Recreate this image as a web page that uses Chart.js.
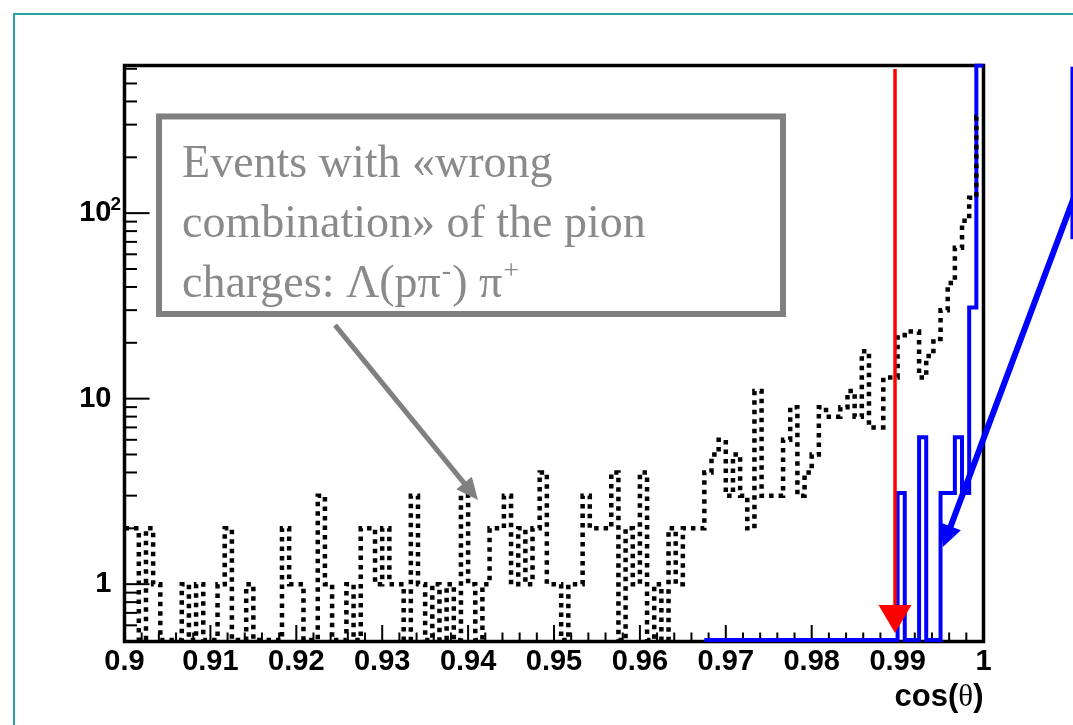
<!DOCTYPE html>
<html>
<head>
<meta charset="utf-8">
<title>cos(θ) distribution</title>
<script src="https://cdn.jsdelivr.net/npm/chart.js@4/dist/chart.umd.min.js"></script>
<style>
  html, body { margin: 0; padding: 0; background: #ffffff; }
  #wrap { position: relative; width: 1073px; height: 725px; overflow: hidden; }
  canvas { display: block; }
</style>
</head>
<body>
<div id="wrap"><canvas id="plot" width="1073" height="725"></canvas></div>
<script>
// Histogram binning: 120 bins over 0.9 < cos(theta) < 1
const X_MIN = 0.9;
const X_MAX = 1.0;
const N_BINS = 120;
const Y_MIN = 0.5;
const Y_MAX = 625;

// Events with the wrong pion-charge combination (black dotted histogram)
const wrongCombination = [
  2, 2, 0, 2, 1, 0, 0, 0, 1, 0,
  1, 0, 0, 1, 2, 0, 0, 1, 0, 0,
  0, 0, 2, 1, 1, 0, 0, 3, 1, 0,
  0, 1, 0, 2, 2, 1, 2, 1, 1, 0,
  3, 1, 0, 1, 0, 1, 0, 3, 1, 0,
  1, 2, 2, 3, 1, 2, 1, 2, 4, 1,
  1, 0, 1, 1, 3, 2, 2, 2, 4, 0,
  2, 1, 4, 0, 1, 0, 2, 1, 2, 2,
  2, 4, 5, 6, 3, 5, 3, 2, 11, 3,
  3, 3, 6, 9, 3, 4, 5, 9, 8, 8,
  9, 11, 8, 18, 7, 7, 13, 13, 22, 23,
  23, 13, 17, 21, 30, 42, 65, 91, 121, 330
];

// Simulated signal (blue histogram), filled from bin 81 onwards
const signalFirstBin = 81;
const signalSim = [
  0, 0, 0, 0, 0, 0, 0, 0, 0, 0,
  0, 0, 0, 0, 0, 0, 0, 0, 0, 0,
  0, 0, 0, 0, 0, 0, 0,
  3.1, 0, 0, 6.2, 0, 0, 3.1, 3.1, 6.2, 3.1, 31, 1500
];

// Selection cut on cos(theta)
const cosCut = 0.9897;

// Axis ticks (the exponent of 10^2 is drawn raised next to its base)
const xTickValues = [0.9, 0.91, 0.92, 0.93, 0.94, 0.95, 0.96, 0.97, 0.98, 0.99, 1.0];
const xTickLabels = ['0.9', '0.91', '0.92', '0.93', '0.94', '0.95', '0.96', '0.97', '0.98', '0.99', '1'];
const yTickValues = [1, 10, 100];
const yTickLabels = ['1', '10', '10'];
const yTickExponents = ['', '', '2'];

// Annotation text
const noteLine1 = 'Events with \u00ABwrong';
const noteLine2 = 'combination\u00BB of the pion';
const noteLine3 = [
  { text: 'charges: \u039B(p\u03C0', sup: false },
  { text: '-', sup: true },
  { text: ') \u03C0', sup: false },
  { text: '+', sup: true }
];

const BIN_W = (X_MAX - X_MIN) / N_BINS;

// Convert bin contents into step points; empty bins sit on the axis floor
function stepPoints(firstBin, values) {
  const clampY = v => Math.min(Math.max(v, Y_MIN), Y_MAX);
  const pts = values.map((v, i) => ({ x: X_MIN + (firstBin + i) * BIN_W, y: clampY(v) }));
  pts.push({ x: X_MIN + (firstBin + values.length) * BIN_W, y: clampY(values[values.length - 1]) });
  return pts;
}

function line(ctx, x0, y0, x1, y1) {
  ctx.beginPath();
  ctx.moveTo(x0, y0);
  ctx.lineTo(x1, y1);
  ctx.stroke();
}

function arrow(ctx, x0, y0, x1, y1, width, headLen, headHalf, color) {
  const dx = x1 - x0, dy = y1 - y0;
  const len = Math.hypot(dx, dy);
  const ux = dx / len, uy = dy / len;
  const bx = x1 - ux * headLen, by = y1 - uy * headLen;
  ctx.save();
  ctx.strokeStyle = color;
  ctx.fillStyle = color;
  ctx.lineWidth = width;
  ctx.lineCap = 'butt';
  line(ctx, x0, y0, bx + ux * 2, by + uy * 2);
  ctx.beginPath();
  ctx.moveTo(x1, y1);
  ctx.lineTo(bx - uy * headHalf, by + ux * headHalf);
  ctx.lineTo(bx + uy * headHalf, by - ux * headHalf);
  ctx.closePath();
  ctx.fill();
  ctx.restore();
}

const tickFont = { family: '"Liberation Sans", Arial, sans-serif', size: 29, weight: 'bold' };
const Y_LABEL_PAD = 13;

// Frame and inward-pointing tick marks
const frameAndTicks = {
  id: 'frameAndTicks',
  beforeDatasetsDraw(chart) {
    const { ctx, chartArea: a, scales: { x, y } } = chart;
    ctx.save();
    ctx.strokeStyle = '#000000';
    ctx.lineWidth = 2;
    ctx.lineCap = 'butt';
    for (let i = 0; i <= 50; i++) {
      const v = X_MIN + i * 0.002;
      const px = x.getPixelForValue(v);
      const len = (i % 5 === 0) ? 15 : 7.5;
      line(ctx, px, a.bottom, px, a.bottom - len);
    }
    [0.1, 1, 10, 100].forEach(d => {
      for (let m = 1; m <= 9; m++) {
        const v = m * d;
        if (v <= Y_MIN || v >= Y_MAX) continue;
        const py = y.getPixelForValue(v);
        const len = (m === 1) ? 25 : 12.5;
        line(ctx, a.left, py, a.left + len, py);
      }
    });
    ctx.lineWidth = 3.5;
    ctx.lineCap = 'square';
    ctx.beginPath();
    ctx.moveTo(a.left, a.top);
    ctx.lineTo(a.right, a.top);
    ctx.lineTo(a.right, a.bottom + 1.5);
    ctx.lineTo(a.left, a.bottom + 1.5);
    ctx.closePath();
    ctx.stroke();
    ctx.restore();
  }
};

// Cut arrow, annotation box, pointer arrows, exponents, axis title and page border
const overlays = {
  id: 'overlays',
  afterDraw(chart) {
    const { ctx, chartArea: a, scales: { x, y } } = chart;
    ctx.save();

    // exponents of the y tick labels
    ctx.fillStyle = '#000000';
    ctx.textAlign = 'left';
    ctx.textBaseline = 'alphabetic';
    yTickValues.forEach((v, i) => {
      if (!yTickExponents[i]) return;
      const py = y.getPixelForValue(v);
      ctx.font = 'bold 19px "Liberation Sans", Arial, sans-serif';
      ctx.fillText(yTickExponents[i], a.left - Y_LABEL_PAD - 1, py - 3);
    });

    // selection cut
    const cx = x.getPixelForValue(cosCut);
    const cTop = y.getPixelForValue(598);
    const cTip = y.getPixelForValue(0.545);
    ctx.strokeStyle = '#ff0000';
    ctx.fillStyle = '#ff0000';
    ctx.lineWidth = 3.5;
    line(ctx, cx, cTop, cx, cTip - 26);
    ctx.beginPath();
    ctx.moveTo(cx, cTip);
    ctx.lineTo(cx - 16.5, cTip - 28);
    ctx.lineTo(cx + 16.5, cTip - 28);
    ctx.closePath();
    ctx.fill();

    // annotation box
    const bx0 = x.getPixelForValue(0.90402), bx1 = x.getPixelForValue(0.97666);
    const by0 = y.getPixelForValue(332), by1 = y.getPixelForValue(28.6);
    ctx.fillStyle = '#ffffff';
    ctx.fillRect(bx0, by0, bx1 - bx0, by1 - by0);
    ctx.strokeStyle = '#808080';
    ctx.lineWidth = 6;
    ctx.strokeRect(bx0, by0, bx1 - bx0, by1 - by0);

    ctx.fillStyle = '#8a8a8a';
    ctx.textBaseline = 'alphabetic';
    ctx.textAlign = 'left';
    const fam = '"Liberation Serif", "DejaVu Serif", serif';
    ctx.font = '46px ' + fam;
    const tx = bx0 + 23;
    ctx.fillText(noteLine1, tx, by0 + 60.5);
    ctx.fillText(noteLine2, tx, by0 + 120.5);
    let cursor = tx;
    noteLine3.forEach(seg => {
      if (seg.sup) {
        ctx.font = '28px ' + fam;
        ctx.fillText(seg.text, cursor + 1, by0 + 180.5 - 18);
        cursor += ctx.measureText(seg.text).width + 2;
      } else {
        ctx.font = '46px ' + fam;
        ctx.fillText(seg.text, cursor, by0 + 180.5);
        cursor += ctx.measureText(seg.text).width;
      }
    });

    // grey pointer to the wrong-combination events
    arrow(ctx,
      x.getPixelForValue(0.92451), y.getPixelForValue(24.9),
      x.getPixelForValue(0.94115), y.getPixelForValue(2.84),
      5, 22, 10, '#808080');

    // blue pointer from the signal legend
    arrow(ctx,
      x.getPixelForValue(1.01356), y.getPixelForValue(288),
      x.getPixelForValue(0.99527), y.getPixelForValue(1.585),
      6, 22, 11, '#0000ff');

    // edge of the signal legend box
    ctx.strokeStyle = '#0000ff';
    ctx.lineWidth = 2.5;
    const lx = x.getPixelForValue(1.01027);
    ctx.strokeRect(lx, y.getPixelForValue(606), 60, y.getPixelForValue(73.5) - y.getPixelForValue(606));

    // x-axis title: cos(θ)
    ctx.fillStyle = '#000000';
    ctx.textBaseline = 'alphabetic';
    const sansB = 'bold 31px "Liberation Sans", Arial, sans-serif';
    const serif = '31px "Liberation Serif", "DejaVu Serif", serif';
    const parts = [['cos(', sansB], ['\u03B8', serif], [')', sansB]];
    let total = 0;
    parts.forEach(p => { ctx.font = p[1]; total += ctx.measureText(p[0]).width; });
    let px = a.right - total;
    parts.forEach(p => {
      ctx.font = p[1];
      ctx.fillText(p[0], px, 706);
      px += ctx.measureText(p[0]).width;
    });

    // page border
    ctx.strokeStyle = '#2aa3a3';
    ctx.lineWidth = 2;
    ctx.beginPath();
    ctx.moveTo(14, 725);
    ctx.lineTo(14, 14);
    ctx.lineTo(1073, 14);
    ctx.stroke();

    ctx.restore();
  }
};

new Chart(document.getElementById('plot'), {
  type: 'line',
  data: {
    datasets: [
      {
        label: 'wrong combination',
        data: stepPoints(0, wrongCombination),
        borderColor: '#000000',
        borderWidth: 4.5,
        borderDash: [4.5, 5],
        borderCapStyle: 'butt',
        stepped: true,
        pointRadius: 0,
        fill: false,
        clip: { left: 0, top: 2, right: 0, bottom: 3 }
      },
      {
        label: 'signal simulation',
        data: stepPoints(signalFirstBin, signalSim),
        borderColor: '#0000ff',
        borderWidth: 4,
        stepped: true,
        pointRadius: 0,
        fill: false,
        clip: { left: 0, top: 2, right: 0, bottom: 3 }
      }
    ]
  },
  options: {
    responsive: false,
    animation: false,
    devicePixelRatio: 1,
    layout: { padding: { left: 0, top: 65.5, right: 89.5, bottom: 0 } },
    plugins: { legend: { display: false }, tooltip: { enabled: false }, title: { display: false } },
    scales: {
      x: {
        type: 'linear',
        min: X_MIN,
        max: X_MAX,
        grid: { display: false, drawTicks: false },
        border: { display: false },
        afterBuildTicks: s => { s.ticks = xTickValues.map(v => ({ value: v })); },
        afterFit: s => { s.height = 85; },
        ticks: {
          callback: (v, i) => xTickLabels[i],
          font: tickFont,
          color: '#000000',
          padding: 5,
          maxRotation: 0,
          autoSkip: false
        }
      },
      y: {
        type: 'logarithmic',
        min: Y_MIN,
        max: Y_MAX,
        grid: { display: false, drawTicks: false },
        border: { display: false },
        afterBuildTicks: s => { s.ticks = yTickValues.map(v => ({ value: v })); },
        afterFit: s => { s.width = 124.5; },
        ticks: {
          callback: (v, i) => yTickLabels[i],
          font: tickFont,
          color: '#000000',
          padding: Y_LABEL_PAD,
          autoSkip: false
        }
      }
    }
  },
  plugins: [frameAndTicks, overlays]
});
</script>
</body>
</html>
